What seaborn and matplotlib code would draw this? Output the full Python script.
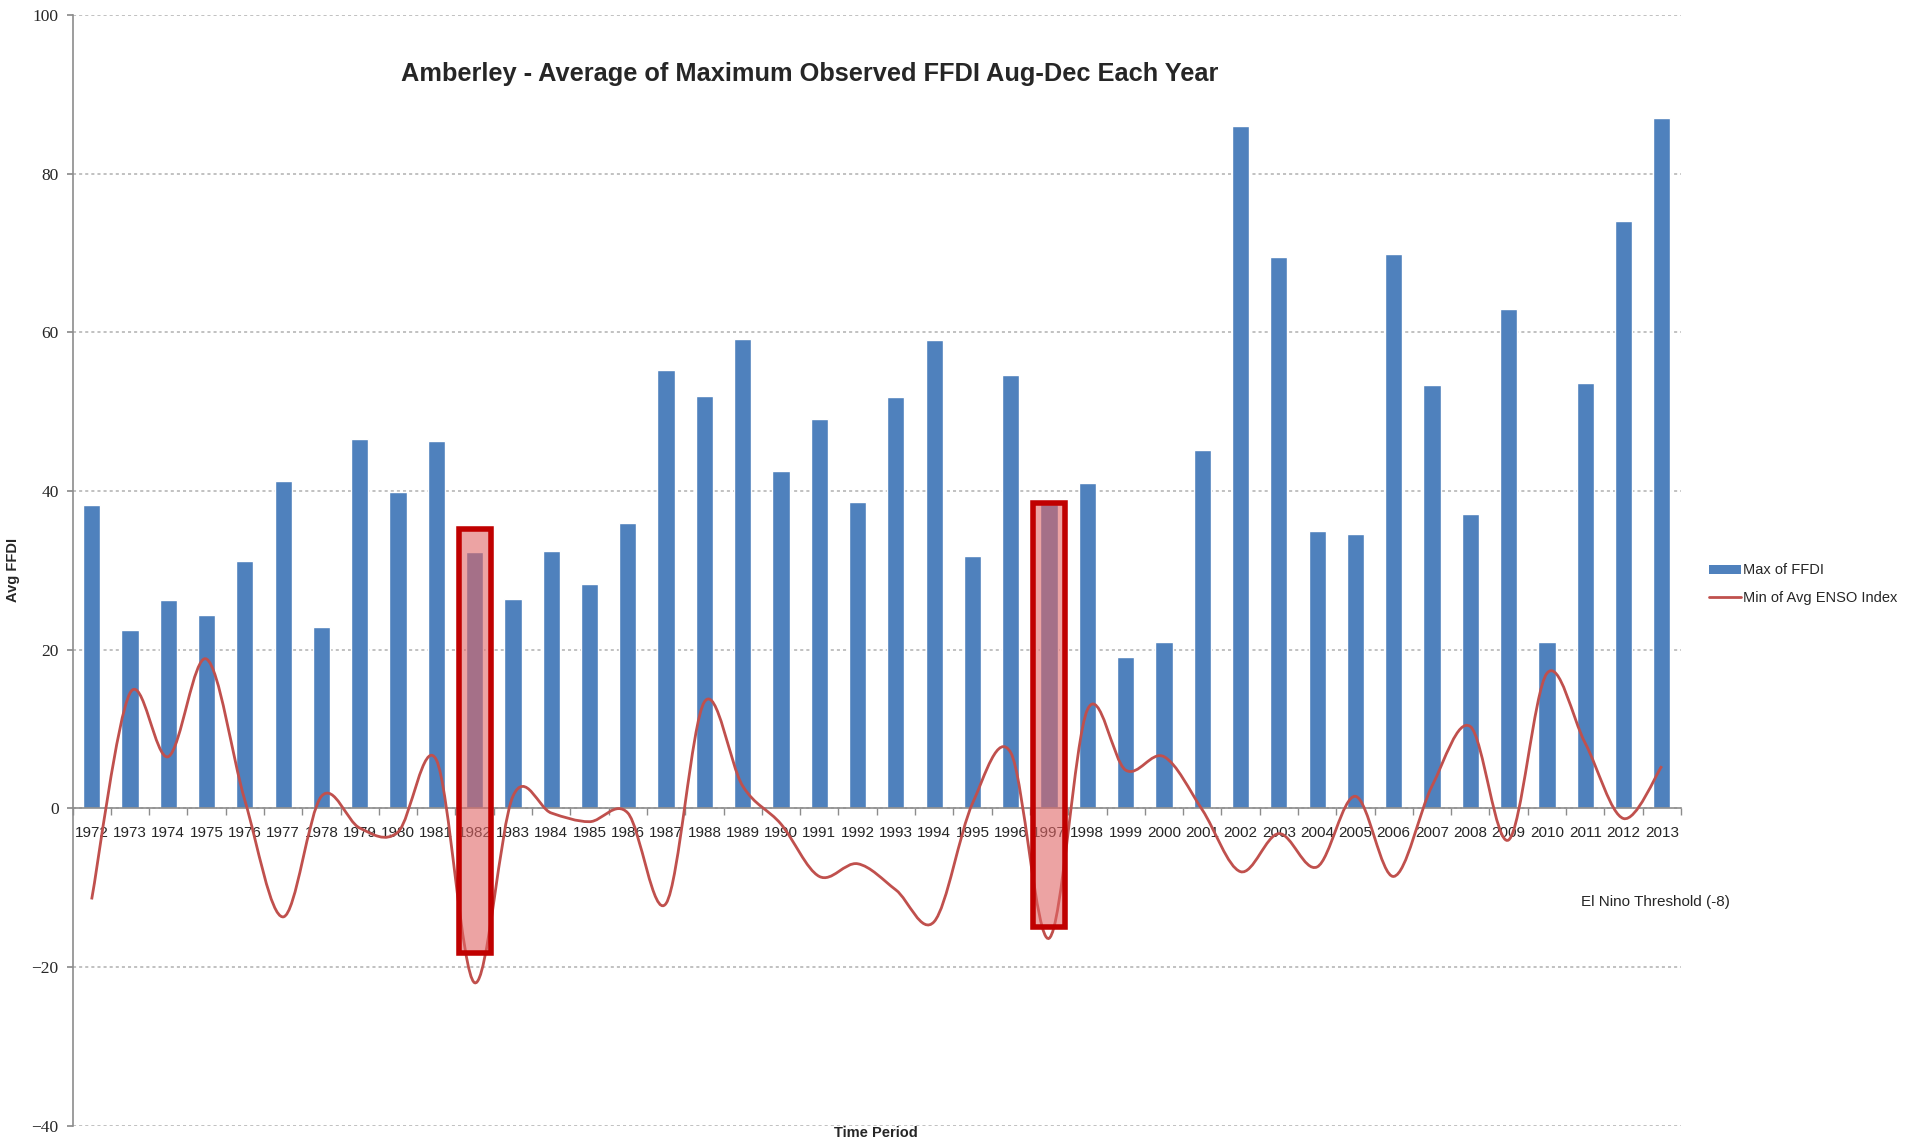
import numpy as np
import pandas as pd
import matplotlib.pyplot as plt
import seaborn as sns
from matplotlib.path import Path
from matplotlib.patches import PathPatch, Rectangle, Patch
from matplotlib.lines import Line2D

years = [str(y) for y in range(1972, 2014)]

max_ffdi = [38.2, 22.5, 26.3, 24.3, 31.2, 41.3, 22.8, 46.6, 39.9, 46.3,
            32.3, 26.4, 32.4, 28.2, 36.0, 55.2, 51.9, 59.2, 42.5, 49.1,
            38.6, 51.8, 59.0, 31.8, 54.6, 38.3, 41.0, 19.0, 21.0, 45.2,
            86.0, 69.5, 35.0, 34.6, 69.8, 53.4, 37.1, 62.9, 21.0, 53.6,
            74.0, 87.0]

min_enso = [-11.5, 14.5, 6.5, 18.8, 1.0, -13.7, 1.5, -2.5, -3.0, 6.1,
            -22.0, 1.5, -0.6, -1.7, -0.6, -12.0, 13.4, 2.8, -2.0, -8.6,
            -7.0, -10.3, -14.3, 0.6, 7.0, -16.4, 12.4, 4.8, 6.5, -0.2,
            -8.0, -3.2, -7.4, 1.5, -8.6, 2.8, 10.3, -4.0, 17.0, 8.2,
            -1.3, 5.3]

highlight_years = ["1982", "1997"]
highlight_top = [35.2, 38.5]
highlight_bottom = [-18.2, -15.0]

bar_color = "#4F81BD"
line_color = "#C0504D"

sns.set_theme(style="white")
plt.rcParams['font.family'] = ['Liberation Sans', 'DejaVu Sans']

df = pd.DataFrame({"year": years, "ffdi": max_ffdi, "enso": min_enso})

fig = plt.figure(figsize=(19.08, 11.45), dpi=100)
ax = fig.add_axes([0.038, 0.017, 0.843, 0.970])

sns.barplot(data=df, x="year", y="ffdi", color=bar_color, width=0.45,
            saturation=1, ax=ax, zorder=2)

# smoothed line (Excel style) as bezier segments through the data points
pts = np.column_stack([np.arange(len(df)), df["enso"].to_numpy()])
verts = [tuple(pts[0])]
codes = [Path.MOVETO]
n = len(pts)
for i in range(n - 1):
    p0 = pts[i - 1] if i > 0 else pts[i]
    p3 = pts[i + 2] if i + 2 < n else pts[i + 1]
    c1 = pts[i] + (pts[i + 1] - p0) / 6
    c2 = pts[i + 1] - (p3 - pts[i]) / 6
    verts += [tuple(c1), tuple(c2), tuple(pts[i + 1])]
    codes += [Path.CURVE4] * 3
ax.add_patch(PathPatch(Path(verts, codes), facecolor="none",
                       edgecolor=line_color, lw=2, zorder=3))

# highlight boxes over the El Nino years
for yr, top, bot in zip(highlight_years, highlight_top, highlight_bottom):
    i = years.index(yr)
    ax.add_patch(Rectangle((i - 0.42, bot), 0.84, top - bot,
                           facecolor="#E06666", alpha=0.6, edgecolor="none", zorder=4))
    ax.add_patch(Rectangle((i - 0.42, bot), 0.84, top - bot,
                           facecolor="none", edgecolor="#C00000", lw=4, zorder=5))

ax.set_xlim(-0.5, len(years) - 0.5)
ax.set_ylim(-40, 100)
ax.set_yticks(range(-40, 101, 20))
ax.spines['bottom'].set_position(('data', 0))
for s in ['top', 'right']:
    ax.spines[s].set_visible(False)
for s in ['left', 'bottom']:
    ax.spines[s].set_color('#8C8C8C')
    ax.spines[s].set_linewidth(1.2)
ax.yaxis.grid(True, linestyle=(0, (2, 2)), color='#B0B0B0', lw=1.1)
ax.set_axisbelow(True)

ax.set_xticks(np.arange(-0.5, len(years)), minor=True)
ax.tick_params(axis='x', which='major', length=0, pad=13, labelsize=11)
ax.tick_params(axis='x', which='minor', length=5, color='#8C8C8C', direction='out', bottom=True)
ax.tick_params(axis='y', length=4, color='#8C8C8C', left=True, pad=6, labelsize=12.5)
for lbl in ax.get_yticklabels():
    lbl.set_family(['Liberation Serif', 'DejaVu Serif'])

ax.set_xlabel("")
ax.set_ylabel("Avg FFDI", fontsize=10.5, fontweight='bold', labelpad=8)

ax.text(0.4586, 0.947, "Amberley - Average of Maximum Observed FFDI Aug-Dec Each Year",
        transform=ax.transAxes, ha='center', va='center', fontsize=18.3, fontweight='bold')
fig.text(0.459, 0.004, "Time Period", ha='center', va='bottom', fontsize=10.5,
         fontweight='bold')
ax.text(38.9, -11.8, "El Nino Threshold (-8)", ha='left', va='center', fontsize=11, clip_on=False)

handles = [Patch(facecolor=bar_color, edgecolor='none'),
           Line2D([0], [0], color=line_color, lw=2)]
fig.legend(handles, ["Max of FFDI", "Min of Avg ENSO Index"], loc='center left',
           bbox_to_anchor=(0.889, 0.49), frameon=False, fontsize=10.5,
           handlelength=2.2, handleheight=0.6, handletextpad=0.1, labelspacing=0.9)

fig.savefig("out.png", dpi=100)
